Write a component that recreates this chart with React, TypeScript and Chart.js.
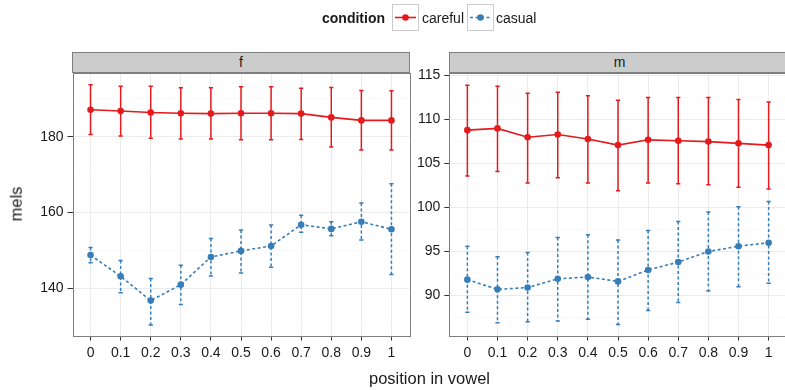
import React, { useEffect, useRef } from 'react';
import { Chart, registerables } from 'chart.js';
Chart.register(...registerables);

// ---------- data ----------
const positions = ['0', '0.1', '0.2', '0.3', '0.4', '0.5', '0.6', '0.7', '0.8', '0.9', '1'];

const fCareful = [187.1, 186.8, 186.4, 186.2, 186.1, 186.2, 186.2, 186.1, 185.1, 184.3, 184.3];
const fCarefulHi = [193.7, 193.3, 193.3, 192.9, 192.9, 193.2, 193.2, 192.8, 193.0, 192.2, 192.1];
const fCarefulLo = [180.6, 180.2, 179.6, 179.4, 179.4, 179.2, 179.2, 179.3, 177.3, 176.5, 176.5];
const fCasual = [148.8, 143.2, 136.8, 141.0, 148.3, 149.9, 151.2, 156.8, 155.7, 157.6, 155.6];
const fCasualHi = [150.8, 147.4, 142.6, 146.1, 153.2, 155.4, 156.7, 159.3, 157.6, 162.5, 167.6];
const fCasualLo = [146.8, 138.9, 130.4, 135.8, 143.3, 144.1, 145.6, 154.8, 153.9, 152.8, 143.7];

const mCareful = [108.8, 109.0, 108.0, 108.3, 107.8, 107.1, 107.7, 107.6, 107.5, 107.3, 107.1];
const mCarefulHi = [113.9, 113.8, 113.0, 113.1, 112.7, 112.2, 112.5, 112.5, 112.5, 112.3, 112.0];
const mCarefulLo = [103.6, 104.1, 102.8, 103.4, 102.8, 101.9, 102.8, 102.7, 102.6, 102.3, 102.1];
const mCasual = [91.8, 90.7, 90.9, 91.9, 92.1, 91.6, 92.9, 93.8, 95.0, 95.6, 96.0];
const mCasualHi = [95.6, 94.4, 94.9, 96.6, 96.9, 96.3, 97.4, 98.4, 99.5, 100.1, 100.7];
const mCasualLo = [88.1, 86.9, 87.0, 87.1, 87.3, 86.7, 88.3, 89.2, 90.5, 91.0, 91.4];

const fMajorTicks = [140, 160, 180];
const fMinorTicks = [130, 150, 170, 190];
const mMajorTicks = [90, 95, 100, 105, 110, 115];
const mMinorTicks = [87.5, 92.5, 97.5, 102.5, 107.5, 112.5];

const conditions = ['careful', 'casual'];
const facets = ['f', 'm'];

// ---------- style ----------
const RED = '#E41A1C';
const BLUE = '#377EB8';
const FONT = '"Liberation Sans", Arial, Helvetica, sans-serif';
const TEXT = '#1a1a1a';

const errorBars = {
  id: 'errorBars',
  beforeDatasetsDraw(chart: any) {
    const ctx = chart.ctx;
    const xs = chart.scales.x;
    const ys = chart.scales.y;
    chart.data.datasets.forEach((ds: any) => {
      ctx.save();
      ctx.strokeStyle = ds.borderColor;
      ctx.lineWidth = 1.5;
      ds.hi.forEach((hi: number, i: number) => {
        const x = xs.getPixelForValue(i);
        const yh = ys.getPixelForValue(hi);
        const yl = ys.getPixelForValue(ds.lo[i]);
        const hw = xs.getPixelForValue(i + 0.07) - x;
        ctx.setLineDash(ds.borderDash || []);
        ctx.beginPath();
        ctx.moveTo(x, yh);
        ctx.lineTo(x, yl);
        ctx.stroke();
        ctx.setLineDash([]);
        ctx.beginPath();
        ctx.moveTo(x - hw, yh);
        ctx.lineTo(x + hw, yh);
        ctx.moveTo(x - hw, yl);
        ctx.lineTo(x + hw, yl);
        ctx.stroke();
      });
      ctx.restore();
    });
  },
};

const panelBorder = {
  id: 'panelBorder',
  afterDraw(chart: any) {
    const { ctx, chartArea: a } = chart;
    ctx.save();
    ctx.strokeStyle = '#7f7f7f';
    ctx.lineWidth = 1;
    ctx.strokeRect(Math.round(a.left) + 0.5, Math.round(a.top) + 0.5, Math.round(a.right - a.left), Math.round(a.bottom - a.top));
    ctx.restore();
  },
};

type PanelProps = {
  left: number;
  width: number;
  area: { left: number; right: number; top: number; bottom: number };
  careful: number[];
  carefulHi: number[];
  carefulLo: number[];
  casual: number[];
  casualHi: number[];
  casualLo: number[];
  yMin: number;
  yMax: number;
  major: number[];
  minor: number[];
};

const H = 390;

function Panel(p: PanelProps) {
  const ref = useRef<HTMLCanvasElement | null>(null);
  useEffect(() => {
    if (!ref.current) return;
    const chart = new Chart(ref.current, {
      type: 'line',
      data: {
        datasets: [
          {
            label: conditions[0],
            data: p.careful.map((v, i) => ({ x: i, y: v })),
            borderColor: RED,
            backgroundColor: RED,
            borderWidth: 1.6,
            pointRadius: 3.3,
            pointBorderWidth: 0,
            pointBackgroundColor: RED,
            tension: 0,
            hi: p.carefulHi,
            lo: p.carefulLo,
          } as any,
          {
            label: conditions[1],
            data: p.casual.map((v, i) => ({ x: i, y: v })),
            borderColor: BLUE,
            backgroundColor: BLUE,
            borderWidth: 1.6,
            borderDash: [3, 2.5],
            pointRadius: 3.3,
            pointBorderWidth: 0,
            pointBackgroundColor: BLUE,
            tension: 0,
            hi: p.casualHi,
            lo: p.casualLo,
          } as any,
        ],
      },
      options: {
        responsive: false,
        maintainAspectRatio: false,
        animation: false,
        events: [],
        layout: { padding: { left: 0, top: p.area.top, right: p.left + p.width - p.area.right, bottom: 0 } },
        plugins: { legend: { display: false }, tooltip: { enabled: false } },
        scales: {
          x: {
            type: 'linear',
            min: -0.6,
            max: 10.6,
            afterBuildTicks: (s: any) => {
              s.ticks = positions.map((_, i) => ({ value: i }));
            },
            afterFit: (s: any) => {
              s.height = H - p.area.bottom;
              s.paddingLeft = 0;
              s.paddingRight = 0;
            },
            ticks: {
              autoSkip: false,
              maxRotation: 0,
              padding: 4,
              color: TEXT,
              font: { family: FONT, size: 14 },
              callback: (v: any) => positions[v as number],
            },
            grid: { color: '#ebebeb', lineWidth: 1, tickColor: '#333333', tickLength: 5 },
            border: { display: false },
          },
          y: {
            type: 'linear',
            min: p.yMin,
            max: p.yMax,
            afterBuildTicks: (s: any) => {
              s.ticks = [...p.minor, ...p.major].sort((a, b) => a - b).map((v) => ({ value: v }));
            },
            afterFit: (s: any) => {
              s.width = p.area.left - p.left;
              s.paddingTop = 0;
              s.paddingBottom = 0;
            },
            ticks: {
              autoSkip: false,
              padding: 4,
              color: TEXT,
              font: { family: FONT, size: 14 },
              callback: (v: any) => (p.major.includes(v) ? String(v) : ''),
            },
            grid: {
              color: (c: any) => (p.major.includes(c.tick?.value) ? '#ebebeb' : '#fafafa'),
              tickColor: (c: any) => (p.major.includes(c.tick?.value) ? '#333333' : 'rgba(0,0,0,0)'),
              tickLength: 5,
              lineWidth: 1,
            },
            border: { display: false },
          },
        },
      },
      plugins: [errorBars, panelBorder],
    });
    return () => chart.destroy();
  }, []);
  return (
    <canvas
      ref={ref}
      width={p.width}
      height={H}
      style={{ position: 'absolute', left: p.left, top: 0, width: p.width, height: H }}
    />
  );
}

function Strip({ label, left, right }: { label: string; left: number; right: number }) {
  return (
    <div
      style={{
        position: 'absolute',
        left,
        top: 52,
        width: right - left,
        height: 21,
        boxSizing: 'border-box',
        background: '#cccccc',
        border: '1px solid #7f7f7f',
        color: TEXT,
        font: `14px ${FONT}`,
        lineHeight: '19px',
        textAlign: 'center',
      }}
    >
      {label}
    </div>
  );
}

function KeyIcon({ color, dashed }: { color: string; dashed: boolean }) {
  return (
    <svg width={25} height={25} style={{ display: 'block' }}>
      <line
        x1={2}
        y1={12.5}
        x2={23}
        y2={12.5}
        stroke={color}
        strokeWidth={1.6}
        strokeDasharray={dashed ? '3 2.5' : undefined}
      />
      <circle cx={12.5} cy={12.5} r={3.3} fill={color} />
    </svg>
  );
}

export default function App() {
  const keyBox = (left: number, color: string, dashed: boolean) => (
    <div
      style={{
        position: 'absolute',
        left,
        top: 4,
        width: 27,
        height: 27,
        boxSizing: 'border-box',
        border: '1px solid #cccccc',
        background: '#ffffff',
      }}
    >
      <KeyIcon color={color} dashed={dashed} />
    </div>
  );
  const txt = (left: number, text: string, bold = false) => (
    <div
      style={{
        position: 'absolute',
        left,
        top: 9,
        font: `${bold ? 'bold ' : ''}14px ${FONT}`,
        lineHeight: '18px',
        color: TEXT,
        whiteSpace: 'nowrap',
      }}
    >
      {text}
    </div>
  );
  return (
    <div
      style={{
        position: 'fixed',
        left: 0,
        top: 0,
        width: 785,
        height: 390,
        overflow: 'hidden',
        background: '#ffffff',
        fontFamily: FONT,
      }}
    >
      <Panel
        left={0}
        width={420}
        area={{ left: 72.5, right: 409.5, top: 73, bottom: 335.5 }}
        careful={fCareful}
        carefulHi={fCarefulHi}
        carefulLo={fCarefulLo}
        casual={fCasual}
        casualHi={fCasualHi}
        casualLo={fCasualLo}
        yMin={127.6}
        yMax={196.8}
        major={fMajorTicks}
        minor={fMinorTicks}
      />
      <Panel
        left={400}
        width={400}
        area={{ left: 449.3, right: 786.7, top: 73, bottom: 335.5 }}
        careful={mCareful}
        carefulHi={mCarefulHi}
        carefulLo={mCarefulLo}
        casual={mCasual}
        casualHi={mCasualHi}
        casualLo={mCasualLo}
        yMin={85.45}
        yMax={115.3}
        major={mMajorTicks}
        minor={mMinorTicks}
      />
      <Strip label={facets[0]} left={72} right={410} />
      <Strip label={facets[1]} left={449} right={790} />
      {txt(322, 'condition', true)}
      {keyBox(392, RED, false)}
      {txt(422, conditions[0])}
      {keyBox(466.5, BLUE, true)}
      {txt(496, conditions[1])}
      <div
        style={{
          position: 'absolute',
          left: 429.5,
          top: 369.5,
          transform: 'translateX(-50%)',
          font: `16.5px ${FONT}`,
          lineHeight: '16.5px',
          color: TEXT,
          whiteSpace: 'nowrap',
        }}
      >
        position in vowel
      </div>
      <div
        style={{
          position: 'absolute',
          left: 16,
          top: 204,
          transform: 'translate(-50%, -50%) rotate(-90deg)',
          font: `16.5px ${FONT}`,
          lineHeight: '16.5px',
          color: TEXT,
          whiteSpace: 'nowrap',
        }}
      >
        mels
      </div>
    </div>
  );
}
